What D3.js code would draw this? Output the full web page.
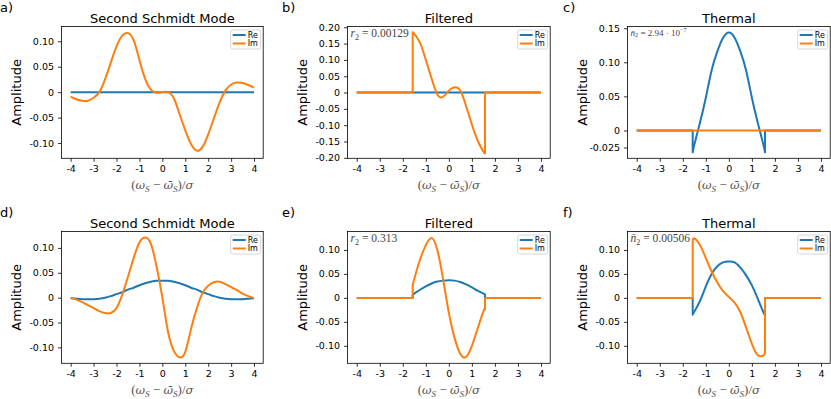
<!DOCTYPE html>
<html>
<head>
<meta charset="utf-8">
<script src="https://cdn.jsdelivr.net/npm/d3@7"></script>
<style>
    body { margin: 0; background: #fff; }
    svg { display: block; font-family: "DejaVu Sans", sans-serif; }
</style>
</head>
<body>
<svg id="fig" width="831" height="399"></svg>
<script>
// sample grid for the full-range curves
const xGrid = [-4, -3.75, -3.5, -3.25, -3, -2.75, -2.5, -2.25, -2, -1.75, -1.5, -1.25, -1, -0.75, -0.5, -0.25,
    0, 0.25, 0.5, 0.75, 1, 1.25, 1.5, 1.75, 2, 2.25, 2.5, 2.75, 3, 3.25, 3.5, 3.75, 4];
// sample grid inside the filter window (outside it everything is zero)
const cutGrid = [-1.57, -1.5, -1.25, -1, -0.75, -0.5, -0.25, 0, 0.25, 0.5, 0.75, 1, 1.25, 1.5, 1.57];

const xTicks = [-4, -3, -2, -1, 0, 1, 2, 3, 4];
const xTickLabels = ['-4', '-3', '-2', '-1', '0', '1', '2', '3', '4'];

// a) second Schmidt mode, first row
const reA = [0, 0, 0, 0, 0, 0, 0, 0, 0, 0, 0, 0, 0, 0, 0, 0, 0, 0, 0, 0, 0, 0, 0, 0, 0, 0, 0, 0, 0, 0, 0, 0, 0];
const imA = [-0.009, -0.014, -0.017, -0.017, -0.011, 0.000, 0.025, 0.058, 0.090, 0.111, 0.116, 0.102, 0.063, 0.026, 0.005, -0.001,
    0.000, 0.000, -0.012, -0.043, -0.075, -0.102, -0.115, -0.108, -0.083, -0.051, -0.020, 0.003, 0.015, 0.019, 0.018, 0.014, 0.009];

// b) filtered
const reB = [0, 0, 0, 0, 0, 0, 0, 0, 0, 0, 0, 0, 0, 0, 0];
const imB = [0.185, 0.180, 0.152, 0.100, 0.043, -0.006, -0.013, 0.006, 0.016, 0.006, -0.042, -0.098, -0.147, -0.181, -0.186];

// c) thermal
const reC = [-0.032, -0.021, 0.012, 0.048, 0.088, 0.116, 0.136, 0.1437, 0.136, 0.116, 0.088, 0.048, 0.012, -0.021, -0.032];
const imC = [0, 0, 0, 0, 0, 0, 0, 0, 0, 0, 0, 0, 0, 0, 0];

// d) second Schmidt mode, second row
const reD = [-0.001, -0.002, -0.003, -0.003, -0.003, -0.002, 0.000, 0.003, 0.007, 0.011, 0.016, 0.020, 0.025, 0.029, 0.032, 0.034,
    0.034, 0.034, 0.032, 0.029, 0.025, 0.020, 0.016, 0.011, 0.007, 0.003, 0.000, -0.002, -0.003, -0.003, -0.003, -0.002, -0.001];
const imD = [0.000, -0.004, -0.009, -0.015, -0.021, -0.027, -0.031, -0.031, -0.021, 0.006, 0.042, 0.080, 0.111, 0.121, 0.108, 0.062,
    0.000, -0.069, -0.107, -0.120, -0.109, -0.063, -0.022, 0.009, 0.024, 0.031, 0.032, 0.027, 0.021, 0.015, 0.008, 0.003, -0.001];

// e) filtered
const reE = [0.007, 0.009, 0.017, 0.024, 0.030, 0.034, 0.036, 0.037, 0.036, 0.033, 0.028, 0.022, 0.015, 0.009, 0.007];
const imE = [0.026, 0.040, 0.080, 0.110, 0.125, 0.100, 0.039, -0.031, -0.084, -0.117, -0.123, -0.100, -0.064, -0.028, -0.024];

// f) thermal
const reF = [-0.035, -0.029, -0.006, 0.024, 0.050, 0.066, 0.074, 0.076, 0.074, 0.063, 0.047, 0.026, -0.001, -0.030, -0.035];
const imF = [0.118, 0.124, 0.110, 0.083, 0.055, 0.032, 0.014, 0.002, -0.010, -0.030, -0.062, -0.096, -0.119, -0.120, -0.115];

const ticksSmall = [-0.10, -0.05, 0, 0.05, 0.10];
const ticksSmallLabels = ['-0.10', '-0.05', '0', '0.05', '0.10'];
const ticksB = [-0.20, -0.15, -0.10, -0.05, 0, 0.05, 0.10, 0.15, 0.20];
const ticksBLabels = ['-0.20', '-0.15', '-0.10', '-0.05', '0', '0.05', '0.10', '0.15', '0.20'];
const ticksC = [-0.025, 0, 0.05, 0.10, 0.15];
const ticksCLabels = ['-0.025', '0', '0.05', '0.10', '0.15'];

const seriesNames = ['Re', 'Im'];
const colors = ['#1f77b4', '#ff7f0e'];

const panels = [
    { label: 'a)', title: 'Second Schmidt Mode', col: 0, row: 0, xs: xGrid, cut: false, re: reA, im: imA,
      yDomain: [-0.130, 0.129], ticks: ticksSmall, tickLabels: ticksSmallLabels, note: null },
    { label: 'b)', title: 'Filtered', col: 1, row: 0, xs: cutGrid, cut: true, re: reB, im: imB,
      yDomain: [-0.2015, 0.2024], ticks: ticksB, tickLabels: ticksBLabels,
      note: { size: 11.5, parts: [{ t: 'r', it: true }, { t: '2', sub: true }, { t: ' = 0.00129' }] } },
    { label: 'c)', title: 'Thermal', col: 2, row: 0, xs: cutGrid, cut: true, re: reC, im: imC,
      yDomain: [-0.0408, 0.1525], ticks: ticksC, tickLabels: ticksCLabels,
      note: { size: 9, parts: [{ t: 'n\u0304', it: true }, { t: '2', sub: true }, { t: ' = 2.94 \u00b7 10' }, { t: '\u22127', sup: true }] } },
    { label: 'd)', title: 'Second Schmidt Mode', col: 0, row: 1, xs: xGrid, cut: false, re: reD, im: imD,
      yDomain: [-0.132, 0.133], ticks: ticksSmall, tickLabels: ticksSmallLabels, note: null },
    { label: 'e)', title: 'Filtered', col: 1, row: 1, xs: cutGrid, cut: true, re: reE, im: imE,
      yDomain: [-0.1365, 0.1385], ticks: ticksSmall, tickLabels: ticksSmallLabels,
      note: { size: 11.5, parts: [{ t: 'r', it: true }, { t: '2', sub: true }, { t: ' = 0.313' }] } },
    { label: 'f)', title: 'Thermal', col: 2, row: 1, xs: cutGrid, cut: true, re: reF, im: imF,
      yDomain: [-0.1365, 0.1385], ticks: ticksSmall, tickLabels: ticksSmallLabels,
      note: { size: 11.5, parts: [{ t: 'n\u0304', it: true }, { t: '2', sub: true }, { t: ' = 0.00506' }] } }
];

// frame positions of the subplot grid
const cols = [{ left: 61.5, right: 263.2 }, { left: 347.5, right: 550.2 }, { left: 627.5, right: 830.2 }];
const rows = [{ top: 26.5, bottom: 158.3 }, { top: 231.5, bottom: 363.3 }];
const labelX = [0, 282, 563];
const serif = '"Liberation Serif", "Times New Roman", serif';
const greek = '"DejaVu Serif", serif';

const svg = d3.select('#fig');

// writes text with italic / sub / superscript pieces
function mathText(sel, parts, size) {
    let shift = 0;
    parts.forEach(p => {
        const ts = sel.append('tspan').text(p.t);
        let target = 0;
        if (p.it) ts.attr('font-style', 'italic');
        if (p.gr) ts.attr('font-family', greek).attr('font-size', size * 0.9);
        if (p.sub) { ts.attr('font-size', size * 0.7); target = size * 0.22; }
        if (p.sup) { ts.attr('font-size', size * 0.7); target = -size * 0.42; }
        if (target !== shift) ts.attr('dy', target - shift);
        shift = target;
    });
}

function drawPanel(p) {
    const c = cols[p.col], r = rows[p.row];
    const x = d3.scaleLinear().domain([-4.4, 4.4]).range([c.left, c.right]);
    const y = d3.scaleLinear().domain(p.yDomain).range([r.bottom, r.top]);
    const g = svg.append('g');

    // panel letter
    svg.append('text')
        .attr('x', labelX[p.col])
        .attr('y', r.top - 15)
        .attr('font-size', 13)
        .text(p.label);

    // title
    g.append('text')
        .attr('x', (c.left + c.right) / 2)
        .attr('y', r.top - 3.5)
        .attr('text-anchor', 'middle')
        .attr('font-size', 13)
        .text(p.title);

    // curves
    const lin = d3.line().x(d => x(d[0])).y(d => y(d[1]));
    const smooth = d3.line().x(d => x(d[0])).y(d => y(d[1])).curve(d3.curveNatural);
    const x0 = xGrid[0], x1 = xGrid[xGrid.length - 1];

    [p.re, p.im].forEach((vals, k) => {
        const pts = p.xs.map((v, i) => [v, vals[i]]);
        let d = smooth(pts);
        if (p.cut) {
            d = lin([[x0, 0], [p.xs[0], 0]]) +
                d.replace(/^M/, 'L') +
                lin([[p.xs[p.xs.length - 1], 0], [x1, 0]]).replace(/^M/, 'L');
        }
        g.append('path')
            .attr('d', d)
            .attr('fill', 'none')
            .attr('stroke', colors[k])
            .attr('stroke-width', 2)
            .attr('stroke-linejoin', 'round');
    });

    // axes
    const xAxis = d3.axisBottom(x).tickValues(xTicks)
        .tickFormat((d, i) => xTickLabels[i]).tickSizeOuter(0).tickSize(3.5).tickPadding(3);
    const yAxis = d3.axisLeft(y).tickValues(p.ticks)
        .tickFormat((d, i) => p.tickLabels[i]).tickSizeOuter(0).tickSize(3.5).tickPadding(4);

    const gx = g.append('g').attr('transform', `translate(0,${r.bottom})`).call(xAxis);
    const gy = g.append('g').attr('transform', `translate(${c.left},0)`).call(yAxis);
    [gx, gy].forEach(a => {
        a.select('.domain').remove();
        a.selectAll('line').attr('stroke', '#000').attr('stroke-width', 0.8);
        a.selectAll('text').attr('font-size', 9.5).attr('fill', '#000')
            .attr('font-family', '"DejaVu Sans", sans-serif');
    });

    // frame
    g.append('rect')
        .attr('x', c.left).attr('y', r.top)
        .attr('width', c.right - c.left).attr('height', r.bottom - r.top)
        .attr('fill', 'none').attr('stroke', '#000').attr('stroke-width', 0.8);

    // y label
    g.append('text')
        .attr('transform', `translate(${c.left - 41},${(r.top + r.bottom) / 2}) rotate(-90)`)
        .attr('text-anchor', 'middle')
        .attr('font-size', 13)
        .text('Amplitude');

    // x label
    const xl = g.append('text')
        .attr('x', (c.left + c.right) / 2)
        .attr('y', r.bottom + 31)
        .attr('text-anchor', 'middle')
        .attr('font-family', serif)
        .attr('font-size', 13)
        .attr('fill', '#555');
    mathText(xl, [{ t: '(' }, { t: '\u03c9', it: true, gr: true }, { t: 'S', it: true, sub: true }, { t: ' \u2212 ' },
        { t: '\u03c9\u0304', it: true, gr: true }, { t: 'S', it: true, sub: true }, { t: ')/' },
        { t: '\u03c3', it: true, gr: true }], 13);

    // annotation in the upper-left corner
    if (p.note) {
        const t = g.append('text')
            .attr('x', c.left + 3)
            .attr('y', r.top + (p.note.size > 10 ? 10.5 : 9))
            .attr('font-family', serif)
            .attr('font-size', p.note.size)
            .attr('fill', '#444');
        mathText(t, p.note.parts, p.note.size);
    }

    // legend
    const lw = 30, lh = 19;
    const lx = c.right - 2.5 - lw, ly = r.top + 3.5;
    const lg = g.append('g');
    lg.append('rect')
        .attr('x', lx).attr('y', ly).attr('width', lw).attr('height', lh)
        .attr('rx', 2).attr('fill', '#fff').attr('fill-opacity', 0.8)
        .attr('stroke', '#ccc').attr('stroke-width', 0.8);
    seriesNames.forEach((name, k) => {
        const yy = ly + 5 + k * 8.5;
        lg.append('line')
            .attr('x1', lx + 2).attr('x2', lx + 15)
            .attr('y1', yy).attr('y2', yy)
            .attr('stroke', colors[k]).attr('stroke-width', 2);
        lg.append('text')
            .attr('x', lx + 17).attr('y', yy)
            .attr('dy', '0.35em')
            .attr('font-size', 8)
            .text(name);
    });
}

panels.forEach(drawPanel);
</script>
</body>
</html>
